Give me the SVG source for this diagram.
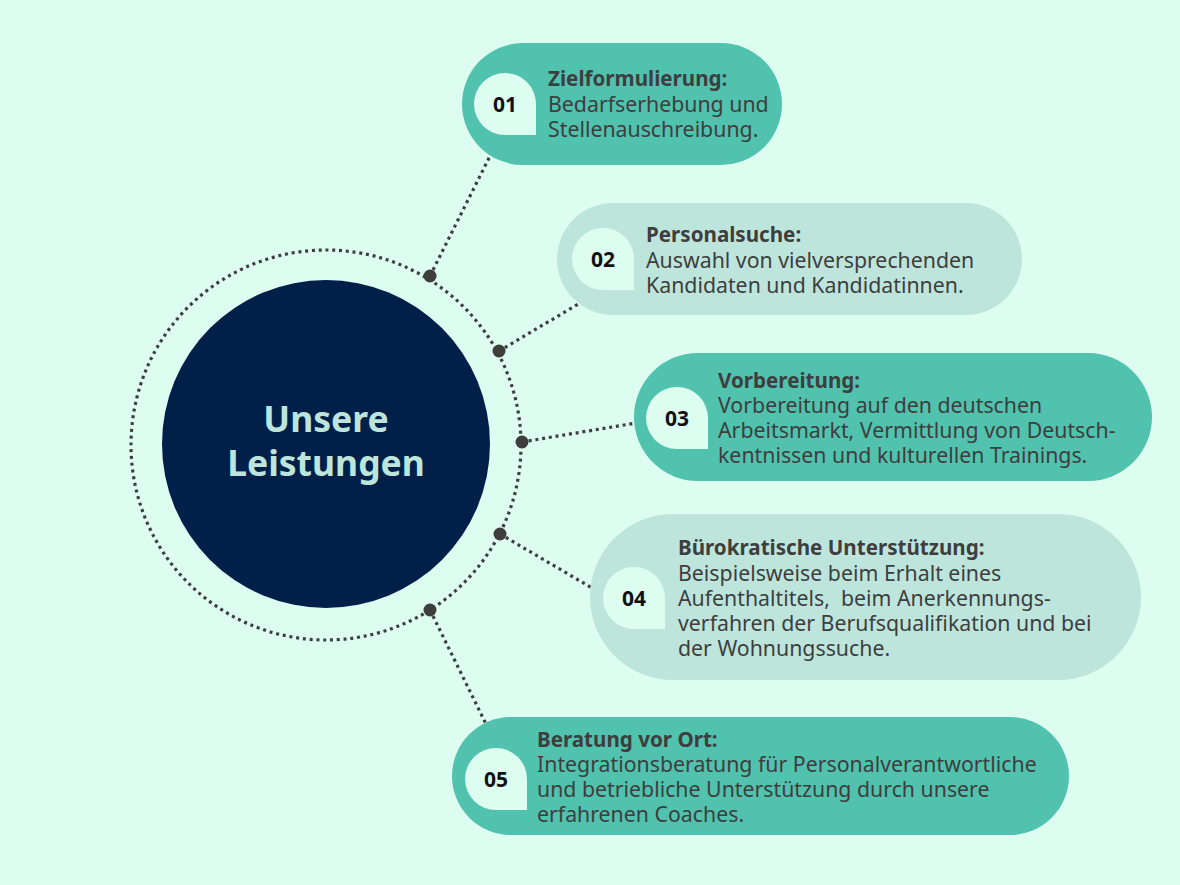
<svg xmlns="http://www.w3.org/2000/svg" xmlns:xlink="http://www.w3.org/1999/xlink" width="1180" height="885" viewBox="0 0 1180 885">
  <style>
    .bg{fill:#DEFDF1}
    .teal{fill:#50C2AD}
    .light{fill:#BDE5DC}
    .badge{fill:#DEFDF1}
    .dotline{fill:none;stroke:#3E3E3E;stroke-width:3.2;stroke-dasharray:3 3.8}
    .pin{fill:#3E3E3E}
    .num{font-family:"Noto Sans","Liberation Sans",sans-serif;font-weight:700;font-size:21px;fill:#111111;text-anchor:middle}
    .title{font-family:"Noto Sans","Liberation Sans",sans-serif;font-weight:700;font-size:20.6px;fill:#3E3E3E}
    .body{font-family:"Noto Sans","Liberation Sans",sans-serif;font-weight:400;font-size:21.3px;fill:#3E3E3E}
    .center{font-family:"Noto Sans","Liberation Sans",sans-serif;font-weight:700;font-size:35.5px;fill:#BDE5DC;text-anchor:middle}
  </style>
  <defs>
    <path id="drop" d="M-31,0 A31,31 0 0 1 0,-31 A31,31 0 0 1 31,0 L31,31 L0,31 A31,31 0 0 1 -31,0 Z"/>
  </defs>
  <rect class="bg" x="0" y="0" width="1180" height="885"/>

  <g id="connectors">
    <circle class="dotline" cx="326" cy="445" r="195"/>
    <line class="dotline" x1="430" y1="276" x2="492" y2="152"/>
    <line class="dotline" x1="499" y1="351" x2="580" y2="303"/>
    <line class="dotline" x1="522" y1="442" x2="636" y2="423"/>
    <line class="dotline" x1="500" y1="534" x2="592" y2="588"/>
    <line class="dotline" x1="430" y1="610" x2="486" y2="724"/>
    <circle class="pin" cx="430" cy="276" r="6.5"/>
    <circle class="pin" cx="499" cy="351" r="6.5"/>
    <circle class="pin" cx="522" cy="442" r="6.5"/>
    <circle class="pin" cx="500" cy="534" r="6.5"/>
    <circle class="pin" cx="430" cy="610" r="6.5"/>
  </g>

  <g id="center">
    <circle cx="326" cy="444" r="164" fill="#00204A"/>
    <text class="center" x="326" y="432">Unsere</text>
    <text class="center" x="326" y="476">Leistungen</text>
  </g>

  <g id="node01">
    <rect class="teal" x="462" y="43" width="320" height="122" rx="61"/>
    <use href="#drop" xlink:href="#drop" x="505" y="104" class="badge"/>
    <text class="num" x="505" y="111.5">01</text>
    <text class="title" x="548" y="86">Zielformulierung:</text>
    <text class="body" x="548" y="111.5">Bedarfserhebung und</text>
    <text class="body" x="548" y="137">Stellenauschreibung.</text>
  </g>

  <g id="node02">
    <rect class="light" x="557" y="203" width="465" height="112" rx="56"/>
    <use href="#drop" xlink:href="#drop" x="603" y="259" class="badge"/>
    <text class="num" x="603" y="266.5">02</text>
    <text class="title" x="646" y="242">Personalsuche:</text>
    <text class="body" x="646" y="267.5">Auswahl von vielversprechenden</text>
    <text class="body" x="646" y="293">Kandidaten und Kandidatinnen.</text>
  </g>

  <g id="node03">
    <rect class="teal" x="634" y="353" width="518" height="128" rx="64"/>
    <use href="#drop" xlink:href="#drop" x="677" y="418" class="badge"/>
    <text class="num" x="677" y="425.5">03</text>
    <text class="title" x="718" y="388">Vorbereitung:</text>
    <text class="body" x="718" y="413">Vorbereitung auf den deutschen</text>
    <text class="body" x="718" y="438">Arbeitsmarkt, Vermittlung von Deutsch-</text>
    <text class="body" x="718" y="463">kentnissen und kulturellen Trainings.</text>
  </g>

  <g id="node04">
    <rect class="light" x="590" y="514" width="551" height="166" rx="83"/>
    <use href="#drop" xlink:href="#drop" x="634" y="598" class="badge"/>
    <text class="num" x="634" y="605.5">04</text>
    <text class="title" x="678" y="555">Bürokratische Unterstützung:</text>
    <text class="body" x="678" y="580.5">Beispielsweise beim Erhalt eines</text>
    <text class="body" x="678" y="605.5" xml:space="preserve">Aufenthaltitels,  beim Anerkennungs-</text>
    <text class="body" x="678" y="630.5">verfahren der Berufsqualifikation und bei</text>
    <text class="body" x="678" y="655.5">der Wohnungssuche.</text>
  </g>

  <g id="node05">
    <rect class="teal" x="452" y="717" width="617" height="118" rx="59"/>
    <use href="#drop" xlink:href="#drop" x="496" y="779" class="badge"/>
    <text class="num" x="496" y="786.5">05</text>
    <text class="title" x="537" y="747">Beratung vor Ort:</text>
    <text class="body" x="537" y="772">Integrationsberatung für Personalverantwortliche</text>
    <text class="body" x="537" y="797">und betriebliche Unterstützung durch unsere</text>
    <text class="body" x="537" y="822">erfahrenen Coaches.</text>
  </g>
</svg>
